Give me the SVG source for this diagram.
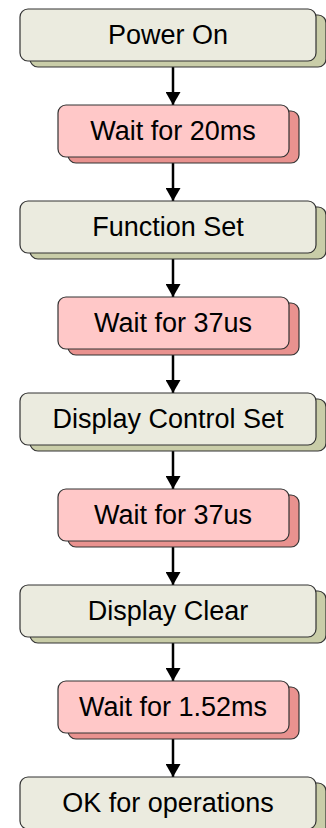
<svg xmlns="http://www.w3.org/2000/svg" width="326" height="828" viewBox="0 0 326 828">
<defs>
<style>
.bs{fill:#c9cda8;stroke:#333;stroke-width:1.2}
.bm{fill:#ebebdf;stroke:#333;stroke-width:1.2}
.ps{fill:#e9928f;stroke:#333;stroke-width:1.2}
.pm{fill:#ffc8c8;stroke:#333;stroke-width:1.2}
text{font-family:"Liberation Sans",Arial,sans-serif;font-size:27px;fill:#000;text-anchor:middle}
.c{stroke:#000;stroke-width:2.5;fill:none;marker-end:url(#ah)}
</style>
<marker id="ah" viewBox="0 0 13 15" refX="13" refY="7.5" markerWidth="13" markerHeight="15" markerUnits="userSpaceOnUse" orient="auto">
<path d="M0,0 L13,7.5 L0,15 Z" fill="#000"/>
</marker>
</defs>
<g id="connectors">
<line class="c" x1="173" y1="61" x2="173" y2="105"/>
<line class="c" x1="173" y1="157" x2="173" y2="201"/>
<line class="c" x1="173" y1="253" x2="173" y2="297"/>
<line class="c" x1="173" y1="349" x2="173" y2="393"/>
<line class="c" x1="173" y1="445" x2="173" y2="489"/>
<line class="c" x1="173" y1="541" x2="173" y2="585"/>
<line class="c" x1="173" y1="637" x2="173" y2="681"/>
<line class="c" x1="173" y1="733" x2="173" y2="777"/>
</g>
<g id="n1"><rect class="bs" x="30" y="15" width="296" height="52" rx="8"/><rect class="bm" x="20" y="9" width="296" height="52" rx="8"/><text x="168" y="43.5">Power On</text></g>
<g id="n2"><rect class="ps" x="68" y="111" width="231" height="52" rx="8"/><rect class="pm" x="58" y="105" width="231" height="52" rx="8"/><text x="173" y="139.5">Wait for 20ms</text></g>
<g id="n3"><rect class="bs" x="30" y="207" width="296" height="52" rx="8"/><rect class="bm" x="20" y="201" width="296" height="52" rx="8"/><text x="168" y="235.5">Function Set</text></g>
<g id="n4"><rect class="ps" x="68" y="303" width="231" height="52" rx="8"/><rect class="pm" x="58" y="297" width="231" height="52" rx="8"/><text x="173" y="331.5">Wait for 37us</text></g>
<g id="n5"><rect class="bs" x="30" y="399" width="296" height="52" rx="8"/><rect class="bm" x="20" y="393" width="296" height="52" rx="8"/><text x="168" y="427.5">Display Control Set</text></g>
<g id="n6"><rect class="ps" x="68" y="495" width="231" height="52" rx="8"/><rect class="pm" x="58" y="489" width="231" height="52" rx="8"/><text x="173" y="523.5">Wait for 37us</text></g>
<g id="n7"><rect class="bs" x="30" y="591" width="296" height="52" rx="8"/><rect class="bm" x="20" y="585" width="296" height="52" rx="8"/><text x="168" y="619.5">Display Clear</text></g>
<g id="n8"><rect class="ps" x="68" y="687" width="231" height="52" rx="8"/><rect class="pm" x="58" y="681" width="231" height="52" rx="8"/><text x="173" y="715.5">Wait for 1.52ms</text></g>
<g id="n9"><rect class="bs" x="30" y="783" width="296" height="52" rx="8"/><rect class="bm" x="20" y="777" width="296" height="52" rx="8"/><text x="168" y="811.5">OK for operations</text></g>
</svg>
